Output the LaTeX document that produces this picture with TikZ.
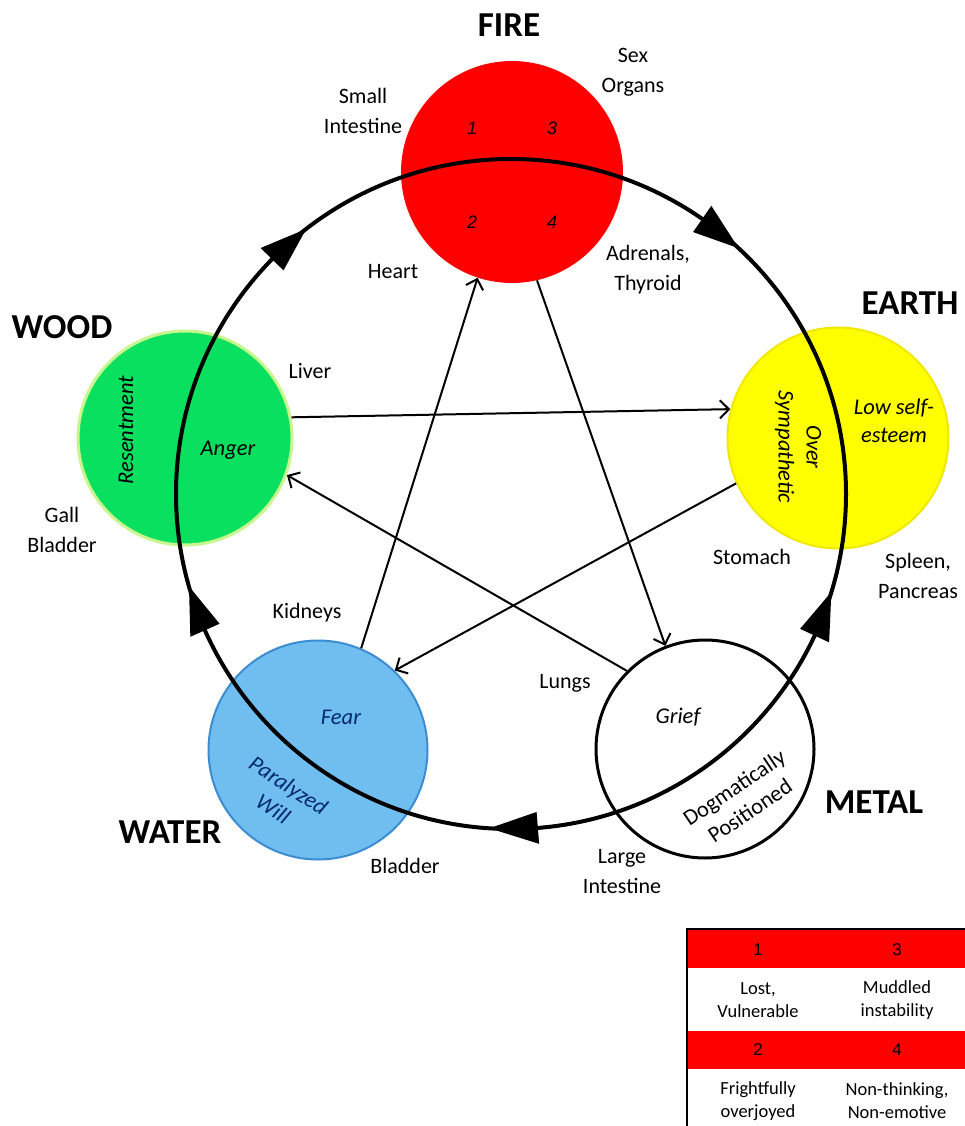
\documentclass[tikz,border=0pt]{standalone}
\usepackage{fontspec}
\setmainfont{Carlito}
\newfontfamily\arialf{Liberation Sans}
\usetikzlibrary{calc,arrows.meta}
\definecolor{woodg}{RGB}{10,224,95}
\definecolor{woodb}{RGB}{200,245,140}
\definecolor{earthy}{RGB}{255,255,0}
\definecolor{earthb}{RGB}{240,232,0}
\definecolor{waterf}{RGB}{112,190,240}
\definecolor{waterb}{RGB}{60,140,210}
\definecolor{navy}{RGB}{0,40,110}
\tikzset{
  lbl/.style={font=\fontsize{22}{30}\selectfont, align=center, inner sep=0pt},
  ttl/.style={font=\fontsize{35}{40}\selectfont\bfseries, inner sep=0pt},
  emo/.style={font=\fontsize{22.5}{28}\selectfont\itshape, align=center, inner sep=0pt},
  elem/.style={circle, inner sep=0pt},
  ctrl/.style={line width=2pt, -{Straight Barb[length=9pt,width=18pt,line width=2pt]}},
  cyc/.style={line width=4pt},
  num/.style={font=\arialf\itshape\fontsize{18}{20}\selectfont, inner sep=0pt},
  tnum/.style={font=\arialf\fontsize{17}{20}\selectfont, inner sep=0pt},
  ttxt/.style={font=\fontsize{18.5}{23}\selectfont, align=center, inner sep=0pt}
}
\begin{document}
\begin{tikzpicture}[x=1pt,y=-1pt]
\useasboundingbox (0,0) rectangle (965,1126);
% element circles
\node[elem, fill=red, minimum size=222pt] (fire) at (512,172) {};
\node[elem, fill=woodg, draw=woodb, line width=3pt, minimum size=214pt] (wood) at (185,438) {};
\node[elem, fill=earthy, draw=earthb, line width=2pt, minimum size=221pt] (earth) at (838,438) {};
\node[elem, fill=waterf, draw=waterb, line width=2pt, minimum size=219pt] (water) at (318,750) {};
\node[elem, fill=white, draw=black, line width=3pt, minimum size=218pt] (metal) at (705,749) {};
% big generating circle
\coordinate (C) at (511,494);
\draw[cyc] (C) circle (335);
\fill ($(C)+(-127.7:335)$) -- ($(C)+(-135.5:351)$) -- ($(C)+(-135.5:319)$) -- cycle;
\fill ($(C)+(-47.2:335)$) -- ($(C)+(-55.2:351)$) -- ($(C)+(-55.2:319)$) -- cycle;
\fill ($(C)+(17:335)$) -- ($(C)+(25:351)$) -- ($(C)+(25:319)$) -- cycle;
\fill ($(C)+(93.7:335)$) -- ($(C)+(85.4:351)$) -- ($(C)+(85.4:319)$) -- cycle;
\fill ($(C)+(164:335)$) -- ($(C)+(156:351)$) -- ($(C)+(156:319)$) -- cycle;
% control star
\draw[ctrl] (wood.11) -- (earth.165);
\draw[ctrl] (earth.204) -- (water.46);
\draw[ctrl] (water.67) -- (fire.252);
\draw[ctrl] (fire.283) -- (metal.111);
\draw[ctrl] (metal.135) -- (wood.340);
% fire numbers
\node[num] (n1) at (472,128) {1};
\node[num] (n3) at (552,128) {3};
\node[num] (n2) at (472,222) {2};
\node[num] (n4) at (552,222) {4};
% emotions
\node[emo, rotate=90] (res) at (126,430) {Resentment};
\node[emo] (ang) at (228,450) {Anger};
\node[emo, rotate=-90] (ovs) at (798,447) {Over\\Sympathetic};
\node[emo] (low) at (894,421) {Low self-\\esteem};
\node[emo, text=navy] (fear) at (341,717) {Fear};
\node[emo, text=navy, rotate=-33] (par) at (281,797) {Paralyzed\\Will};
\node[emo] (grf) at (678,717) {Grief};
\node[emo, font=\fontsize{22.5}{28}\selectfont, rotate=34] (dog) at (742,799) {Dogmatically\\Positioned};
% titles
\node[ttl] (tf) at (509,25) {FIRE};
\node[ttl] (te) at (910,303) {EARTH};
\node[ttl] (tw) at (62,327) {WOOD};
\node[ttl] (tm) at (874,802) {METAL};
\node[ttl] (twa) at (170,832) {WATER};
% organ labels
\node[lbl] (o1) at (633,72) {Sex\\Organs};
\node[lbl] (o2) at (363,111) {Small\\Intestine};
\node[lbl] (o3) at (393,272) {Heart};
\node[lbl] (o4) at (648,270) {Adrenals,\\Thyroid};
\node[lbl] (o5) at (310,371) {Liver};
\node[lbl] (o6) at (62,530) {Gall\\Bladder};
\node[lbl] (o7) at (752,557) {Stomach};
\node[lbl] (o8) at (918,576) {Spleen,\\Pancreas};
\node[lbl] (o9) at (307,613) {Kidneys};
\node[lbl] (o10) at (565,683) {Lungs};
\node[lbl] (o11) at (405,866) {Bladder};
\node[lbl] (o12) at (622,872) {Large\\Intestine};
% legend table
\fill[red] (687,930) rectangle (965,968);
\fill[red] (687,1031) rectangle (965,1069);
\draw[line width=2pt] (687,1126) -- (687,929) -- (966,929);
\node[tnum] (k1) at (758,950) {1};
\node[tnum] (k3) at (897,950) {3};
\node[tnum] (k2) at (758,1050) {2};
\node[tnum] (k4) at (897,1050) {4};
\node[ttxt] (t1) at (758,1000) {Lost,\\Vulnerable};
\node[ttxt] (t3) at (897,1000) {Muddled\\instability};
\node[ttxt] (t2) at (758,1101) {Frightfully\\overjoyed};
\node[ttxt] (t4) at (897,1101) {Non-thinking,\\Non-emotive};
\end{tikzpicture}
\end{document}
